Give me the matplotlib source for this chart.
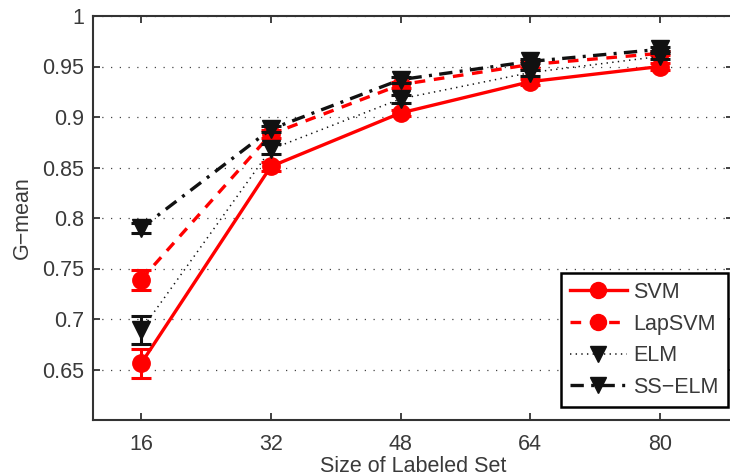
import matplotlib.pyplot as plt
from matplotlib.lines import Line2D

# G-mean vs. number of labeled samples
sizes = [16, 32, 48, 64, 80]

svm = [0.656, 0.851, 0.904, 0.935, 0.950]
svm_err = [0.014, 0.004, 0.003, 0.003, 0.003]

lapsvm = [0.739, 0.883, 0.932, 0.952, 0.963]
lapsvm_err = [0.010, 0.004, 0.003, 0.003, 0.002]

elm = [0.689, 0.868, 0.918, 0.944, 0.960]
elm_err = [0.014, 0.005, 0.004, 0.003, 0.003]

sselm = [0.790, 0.888, 0.937, 0.955, 0.967]
sselm_err = [0.005, 0.003, 0.003, 0.002, 0.002]

yticks = [0.65, 0.7, 0.75, 0.8, 0.85, 0.9, 0.95, 1.0]
ytick_labels = ["0.65", "0.7", "0.75", "0.8", "0.85", "0.9", "0.95", "1"]

plt.rcParams["font.family"] = ["Liberation Sans", "DejaVu Sans"]
text_color = "#3a3a3a"
axis_color = "#333333"
fsize = 15.5

fig = plt.figure(figsize=(7.3, 4.76), dpi=100)
ax = fig.add_axes([92.5 / 730, 56 / 476, 640.5 / 730, 404 / 476])

series = [
    ("SVM", svm, svm_err, "#ff0000", "-", "o", 2.4),
    ("LapSVM", lapsvm, lapsvm_err, "#ff0000", (0, (3.2, 2.6)), "o", 2.4),
    ("ELM", elm, elm_err, "#111111", (0, (0.9, 2.8)), "v", 1.1),
    ("SS-ELM", sselm, sselm_err, "#111111", (0, (4.0, 2.2, 0.9, 2.2)), "v", 2.4),
]

handles = []
for name, vals, errs, color, ls, marker, lw in series:
    ax.errorbar(sizes, vals, yerr=errs, fmt="none", ecolor=color,
                elinewidth=2.2, capsize=7, capthick=2.2, zorder=3)
    ax.plot(sizes, vals, color=color, linestyle=ls, linewidth=lw,
            marker=marker, markersize=12.5, markerfacecolor=color,
            markeredgecolor=color, zorder=3)
    handles.append(Line2D([], [], color=color, linestyle=ls, linewidth=lw,
                          marker=marker, markersize=11.5,
                          markerfacecolor=color, markeredgecolor=color))

ax.set_xlim(10, 89)
ax.set_ylim(0.6, 1.0)
ax.set_xticks(sizes)
ax.set_xticklabels([str(s) for s in sizes])
ax.set_yticks(yticks)
ax.set_yticklabels(ytick_labels)

ax.yaxis.grid(True, linestyle=(0, (1, 6)), color="#444444", linewidth=0.9)
ax.set_axisbelow(True)

ax.tick_params(direction="in", length=5, width=1.3, colors=axis_color,
               labelcolor=text_color, labelsize=fsize, top=True, right=True)
ax.tick_params(axis="x", pad=10)
ax.tick_params(axis="y", pad=6)
for sp in ax.spines.values():
    sp.set_color(axis_color)
    sp.set_linewidth(1.5)

ax.set_xlabel("Size of Labeled Set", fontsize=fsize, color=text_color, labelpad=0.5)
ax.set_ylabel("G\u2212mean", fontsize=fsize, color=text_color, labelpad=7)

leg = ax.legend(handles, ["SVM", "LapSVM", "ELM", "SS\u2212ELM"],
                loc="lower right", bbox_to_anchor=(0.992, 0.032),
                borderaxespad=0, fontsize=fsize, handlelength=2.65,
                handletextpad=0.3, labelspacing=0.5, borderpad=0.42,
                fancybox=False, framealpha=1, edgecolor="black")
leg.get_frame().set_linewidth(1.8)
for t in leg.get_texts():
    t.set_color(text_color)

fig.savefig("out.png", dpi=100)
